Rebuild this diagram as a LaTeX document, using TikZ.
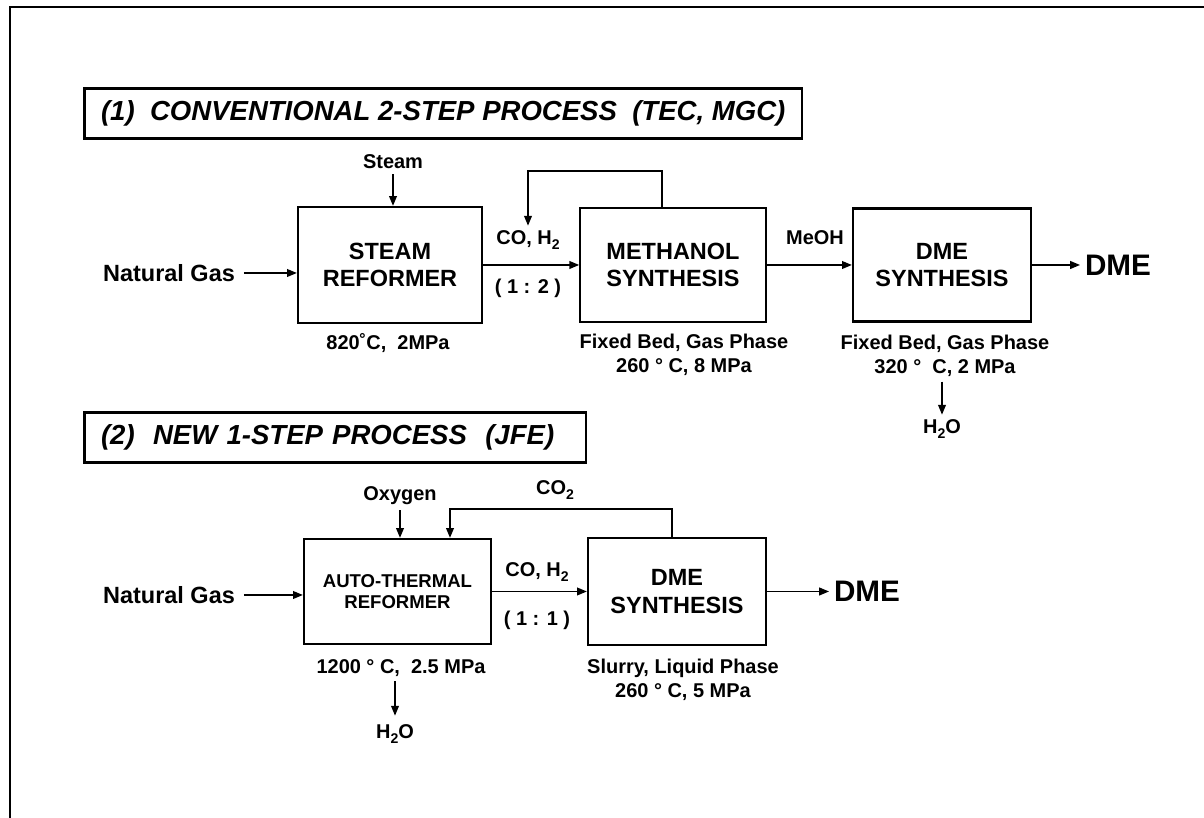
\documentclass[tikz,border=0pt]{standalone}
\usepackage{fontspec}
\setmainfont{Liberation Sans}
\usetikzlibrary{arrows.meta}

\newcommand{\lowsub}[1]{\raisebox{-0.45ex}{\fontsize{10}{10}\selectfont #1}}

\begin{document}
\begin{tikzpicture}[
    vessel/.style={draw=black, line width=1.6pt, align=center, inner sep=0pt,
      font=\fontsize{16.7}{19.5}\selectfont\bfseries},
    heading/.style={draw=black, line width=1.8pt, anchor=west, inner xsep=0.42cm,
      minimum height=1.25cm, font=\fontsize{19.6}{23}\selectfont\bfseries\itshape},
    feed/.style={font=\fontsize{16.7}{20}\selectfont\bfseries},
    stream/.style={font=\fontsize{14.2}{17}\selectfont\bfseries},
    cond/.style={align=center, font=\fontsize{14.2}{17}\selectfont\bfseries},
    product/.style={font=\fontsize{21.1}{25}\selectfont\bfseries},
    flow/.style={draw=black, line width=1.1pt, -{Triangle[length=7pt,width=5.5pt]}},
  ]
  \useasboundingbox (0,0) rectangle (30.1,20.45);

  % page frame
  \draw[line width=1.5pt] (0.25,0) -- (0.25,20.275) -- (30.1,20.275);

  % (1) conventional route
  \node[heading] (head1) at (2.075,17.6125)
    {(1)\ \ CONVENTIONAL 2-STEP PROCESS\ \ (TEC, MGC)};

  \node[vessel, minimum width=4.6cm, minimum height=2.9cm] (sr) at (9.75,13.825)
    {STEAM\\REFORMER};
  \node[vessel, line width=1.1pt, minimum width=4.65cm, minimum height=2.85cm] (ms)
    at (16.825,13.825) {METHANOL\\SYNTHESIS};
  \node[vessel, minimum width=4.45cm, minimum height=2.825cm] (ds1) at (23.55,13.825)
    {DME\\SYNTHESIS};

  \node[feed] (ng1) at (4.225,13.625) {Natural Gas};
  \node[stream] (steam) at (9.825,16.4) {Steam};
  \node[stream] (syn1) at (13.2,14.45) {CO, H\lowsub{2}};
  \node[stream] (ratio1) at (13.2,13.25) {( 1 : 2 )};
  \node[stream] (meoh) at (20.375,14.5) {MeOH};
  \node[product] (dme1) at (27.95,13.825) {DME};

  \node[cond] (c1) at (9.7,11.875) {820˚C,\ \ 2MPa};
  \node[cond] (c2) at (17.1,11.575) {Fixed Bed, Gas Phase\\260 ° C, 8 MPa};
  \node[cond] (c3) at (23.625,11.55) {Fixed Bed, Gas Phase\\320 °\ \ C, 2 MPa};
  \node[stream] (w1) at (23.55,9.725) {H\lowsub{2}O};

  \draw[flow, shorten <=0.1cm] (ng1.east) -- (ng1.east -| sr.west);
  \draw[flow] (steam.south) -- (steam.south |- sr.north);
  \draw[flow] (sr.east) -- (ms.west);
  \draw[flow] ([xshift=-0.275cm]ms.north) -- ++(0,0.9) -| (syn1.north);
  \draw[flow] (ms.east) -- (ds1.west);
  \draw[flow] (ds1.east) -- (ds1.east -| dme1.west);
  \draw[flow] (c3.south -| w1.north) -- (w1.north);

  % (2) one-step route
  \node[heading, text width=11.7cm, align=left] (head2) at (2.075,9.5125)
    {(2)\ \ NEW 1-STEP PROCESS\ \ (JFE)};

  \node[vessel, minimum width=4.675cm, minimum height=2.625cm,
    font=\fontsize{13.2}{15}\selectfont\bfseries] (atr) at (9.9375,5.6625)
    {AUTO-THERMAL\\REFORMER};
  \node[vessel, minimum width=4.45cm, minimum height=2.675cm] (ds2) at (16.925,5.6625)
    {DME\\SYNTHESIS};

  \node[feed] (ng2) at (4.225,5.575) {Natural Gas};
  \node[stream] (oxy) at (10.0,8.05) {Oxygen};
  \node[stream] (co2) at (13.875,8.2) {CO\lowsub{2}};
  \node[stream] (syn2) at (13.425,6.15) {CO, H\lowsub{2}};
  \node[stream] (ratio2) at (13.425,4.95) {( 1 : 1 )};
  \node[product] (dme2) at (21.675,5.6625) {DME};

  \node[cond] (c4) at (10.025,3.75) {1200 ° C,\ \ 2.5 MPa};
  \node[cond] (c5) at (17.075,3.45) {Slurry, Liquid Phase\\260 ° C, 5 MPa};
  \node[stream] (w2) at (9.875,2.1) {H\lowsub{2}O};

  \draw[flow, shorten <=0.1cm] (ng2.east) -- (ng2.east -| atr.west);
  \draw[flow] (oxy.south) -- (oxy.south |- atr.north);
  \draw[flow] ([xshift=-0.125cm]ds2.north) -- ++(0,0.7) -| ([xshift=1.3125cm]atr.north);
  \draw[flow] (atr.east) -- (ds2.west);
  \draw[flow] (ds2.east) -- (ds2.east -| dme2.west);
  \draw[flow, shorten >=0.1cm] (c4.south -| w2.north) -- (w2.north);
\end{tikzpicture}
\end{document}
